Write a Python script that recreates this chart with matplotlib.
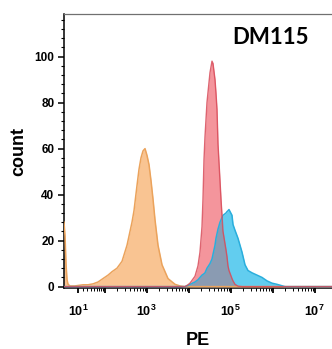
import numpy as np
import matplotlib
matplotlib.use("Agg")
import matplotlib.pyplot as plt
from matplotlib.ticker import FixedLocator, FuncFormatter, MultipleLocator, AutoMinorLocator

plt.rcParams["font.family"] = ["Liberation Sans", "DejaVu Sans"]
plt.rcParams["mathtext.fontset"] = "custom"
plt.rcParams["mathtext.rm"] = "Liberation Sans"
plt.rcParams["mathtext.bf"] = "Liberation Sans:bold"

# PE channel bins (shared by the three histograms)
pe = [-17.7, -15.5, -13.5, -11.4, -9.4, -5.5, 4.1, 10, 20.5, 32.5, 47, 65, 88, 118,
      148, 195, 258, 340, 447, 499, 589, 657, 733, 819, 914, 1020, 1138, 1270,
      1417, 1581, 1863, 2321, 3224, 4733, 6226, 8177, 9636, 10753, 14143, 16677,
      18617, 20776, 21945, 23184, 24486, 27328, 32221, 35963, 37989, 42399, 44786,
      47310, 49980, 55790, 58905, 65730, 77490, 81865, 86450, 91315, 107660,
      113715, 126875, 149625, 186270, 219555, 258825, 322210, 423850, 557375,
      733075, 964250, 1268225, 1966300, 4.48e6, 2.59e7]

isotype = [28, 22, 10, 3, 1, 0.3, 0.3, 0.5, 0.8, 0.8, 1.2, 2, 3.5, 5,
           6.5, 8, 11, 18, 28, 33, 44, 51, 56, 59, 60, 57, 53, 46,
           38, 29, 18, 9.5, 3.5, 1, 0.3, 0, 0, 0, 0, 0,
           0, 0, 0, 0, 0, 0, 0, 0, 0, 0, 0,
           0, 0, 0, 0, 0, 0, 0, 0, 0, 0,
           0, 0, 0, 0, 0, 0, 0, 0, 0,
           0, 0, 0, 0, 0, 0]

positive = [0, 0, 0, 0, 0, 0, 0, 0, 0, 0, 0, 0, 0, 0,
            0, 0, 0, 0, 0, 0, 0, 0, 0, 0, 0, 0, 0, 0,
            0, 0, 0, 0, 0, 0, 0, 0, 0.8, 1.5, 4.5, 9,
            15, 26, 38, 55, 65, 80, 93, 98, 97, 90, 84,
            77, 62, 46, 38, 24, 16, 13, 9, 7, 3.5,
            2.5, 1, 0.2, 0, 0, 0, 0, 0, 0,
            0, 0, 0, 0, 0, 0]

dm115 = [0, 0, 0, 0, 0, 0, 0, 0, 0, 0, 0, 0, 0, 0,
         0, 0, 0, 0, 0, 0, 0, 0, 0, 0, 0, 0, 0, 0,
         0, 0, 0, 0, 0, 0, 0, 0, 0.5, 1, 2, 3,
         4, 5, 5.3, 5.6, 6, 8, 10, 12, 14, 18, 21,
         23, 25, 28, 29, 31, 32, 32.6, 33, 33.5, 31,
         27, 24.5, 21, 15, 9.5, 7, 6, 5, 4,
         2.5, 1.5, 1, 0, 0, 0]

x_major = [10, 100, 1000, 1e4, 1e5, 1e6, 1e7]
x_minor = [m * 10 ** k for k in range(1, 7) for m in range(2, 10)]


def fwd(x):
    # échelle type biexponentielle : log au-dessus, compressée près de zéro
    return np.arcsinh(np.asarray(x) / 35.0) / np.log(10)


def inv(t):
    return 35.0 * np.sinh(np.asarray(t) * np.log(10))


def pe_label(v, pos):
    e = int(round(np.log10(v)))
    return r"$\mathbf{10^{%d}}$" % e if e % 2 == 1 else ""


x = np.array(pe)
iso = np.array(isotype)
pos_ = np.array(positive)
smp = np.array(dm115)
both = np.minimum(pos_, smp)

fig = plt.figure(figsize=(3.32, 3.49), dpi=100)
ax = fig.add_axes([64 / 332, 1 - 288 / 349, 268 / 332, 274 / 349])
ax.set_xscale("function", functions=(fwd, inv))

ax.fill_between(x, iso, color="#f9c492", lw=0, zorder=2)
ax.fill_between(x, pos_, color="#f4959c", lw=0, zorder=3)
ax.fill_between(x, smp, color="#62cdef", lw=0, zorder=4)
ax.fill_between(x, both, color="#8a9bb2", lw=0, zorder=5)
ax.plot(x, iso, color="#eba35c", lw=1.1, zorder=6)
ax.plot(x, smp, color="#2aaedc", lw=1.1, zorder=7)
ax.plot(x, pos_, color="#d84a58", lw=1.0, alpha=0.85, zorder=8)

ax.set_xlim(-17.7, 2.59e7)
ax.set_ylim(-0.6, 118.5)

ax.xaxis.set_major_locator(FixedLocator(x_major))
ax.xaxis.set_minor_locator(FixedLocator(x_minor))
ax.xaxis.set_major_formatter(FuncFormatter(pe_label))
ax.yaxis.set_major_locator(MultipleLocator(20))
ax.yaxis.set_minor_locator(AutoMinorLocator(5))
ax.set_yticks([0, 20, 40, 60, 80, 100])

ax.tick_params(axis="x", which="major", direction="out", length=3.5, width=1.3,
               pad=8, labelsize=9)
ax.tick_params(axis="x", which="minor", direction="out", length=2, width=0.7)
ax.tick_params(axis="y", which="major", direction="out", length=4.5, width=1.1,
               pad=2.5, labelsize=8.5)
ax.tick_params(axis="y", which="minor", direction="out", length=2.5, width=0.8)
for lab in ax.get_yticklabels():
    lab.set_fontweight("bold")

ax.spines["right"].set_visible(False)
ax.spines["top"].set_color("#707070")
ax.spines["top"].set_linewidth(0.9)
ax.spines["left"].set_linewidth(1.1)
ax.spines["bottom"].set_linewidth(1.1)

ax.set_xlabel("PE", fontsize=13, fontweight="bold", labelpad=9)
ax.set_ylabel("count", fontsize=13, fontweight="bold", labelpad=5)
ax.text(0.769, 0.916, "DM115", transform=ax.transAxes, ha="center", va="center",
        fontsize=16, fontweight="bold", family=["Lato", "DejaVu Sans"])

fig.savefig("out.png", dpi=100)
